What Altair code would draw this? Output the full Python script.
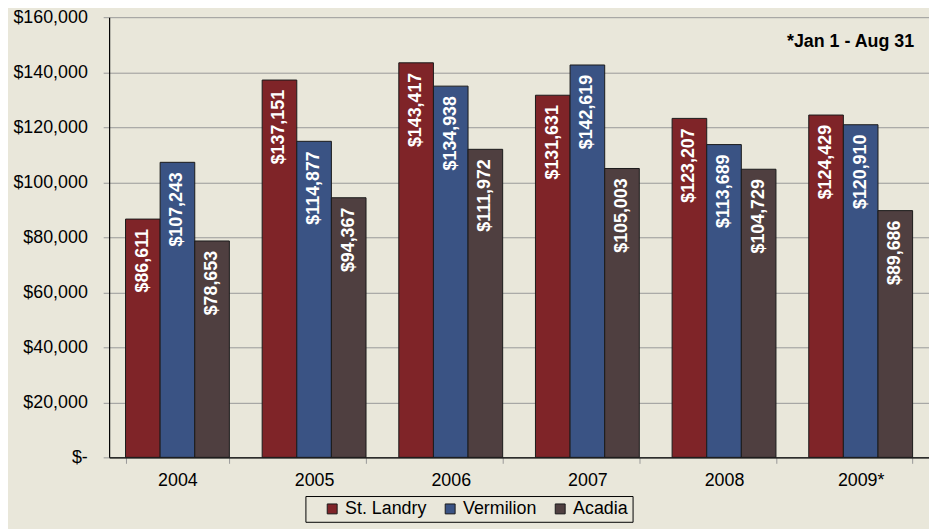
import altair as alt
import pandas as pd

years = ["2004", "2005", "2006", "2007", "2008", "2009*"]
series = ["St. Landry", "Vermilion", "Acadia"]
st_landry = [86611, 137151, 143417, 131631, 123207, 124429]
vermilion = [107243, 114877, 134938, 142619, 113689, 120910]
acadia = [78653, 94367, 111972, 105003, 104729, 89686]
colors = ["#7F2428", "#3A5384", "#4F3F40"]
note = "*Jan 1 - Aug 31"

rows = []
for name, vals in zip(series, [st_landry, vermilion, acadia]):
    for y, v in zip(years, vals):
        rows.append({"Year": y, "Parish": name, "Value": v})
df = pd.DataFrame(rows)

BG = "#E9E7DA"
FONT = "Liberation Sans"

base = alt.Chart(df).transform_calculate(
    label="'$' + format(datum.Value, ',')"
)

x = alt.X("Year:N", sort=years, title=None,
          scale=alt.Scale(paddingInner=0.24, paddingOuter=0.12),
          axis=alt.Axis(labelAngle=0, labelFontSize=18, labelFont=FONT, labelColor="#000",
                        labelPadding=8, tickBand="extent", tickSize=6, tickColor="#999",
                        domainColor="#000", domainWidth=1.2, grid=False))
xo = alt.XOffset("Parish:N", sort=series, scale=alt.Scale(paddingInner=0, paddingOuter=0))
y = alt.Y("Value:Q", title=None,
          scale=alt.Scale(domain=[0, 160000], nice=False),
          axis=alt.Axis(values=list(range(0, 160001, 20000)),
                        labelExpr="datum.value == 0 ? '$-' : '$' + format(datum.value, ',')",
                        labelFontSize=18, labelFont=FONT, labelColor="#000",
                        labelPadding=16, tickSize=6, tickColor="#999",
                        domainColor="#000", domainWidth=1.2,
                        grid=True, gridColor="#999", gridWidth=1))

bars = base.mark_bar(stroke="#1a1a1a", strokeWidth=1).encode(
    x=x, xOffset=xo, y=y,
    color=alt.Color("Parish:N", sort=series,
                    scale=alt.Scale(domain=series, range=colors),
                    legend=alt.Legend(title=None, orient="none", direction="horizontal",
                                      legendX=198, legendY=483,
                                      symbolType="square", symbolSize=100,
                                      symbolStrokeColor="#1a1a1a", symbolStrokeWidth=1,
                                      symbolOffset=14,
                                      labelFontSize=18, labelFont=FONT, labelColor="#000",
                                      labelOffset=4, columnPadding=0,
                                      padding=4, strokeColor="#000", fillColor=BG)),
)

labels = base.mark_text(angle=270, align="right", baseline="middle", dx=-10,
                        color="white", fontWeight="bold", fontSize=18, font=FONT).encode(
    x=alt.X("Year:N", sort=years), xOffset=alt.XOffset("Parish:N", sort=series), y="Value:Q",
    text="label:N",
)

note_df = pd.DataFrame({"t": [note]})
note_layer = alt.Chart(note_df).mark_text(align="right", baseline="middle", fontWeight="bold",
                                         fontSize=18, font=FONT, color="#000").encode(
    x=alt.value(812), y=alt.value(25), text="t:N")

chart = alt.layer(bars, labels, note_layer).properties(
    width=827, height=444, background=BG,
    autosize=alt.AutoSizeParams(type="none"),
    padding={"left": 102, "top": 7, "right": 0, "bottom": 70},
).configure_view(stroke=None)

chart.save("out.html", embed_options={"renderer": "svg", "actions": False})
